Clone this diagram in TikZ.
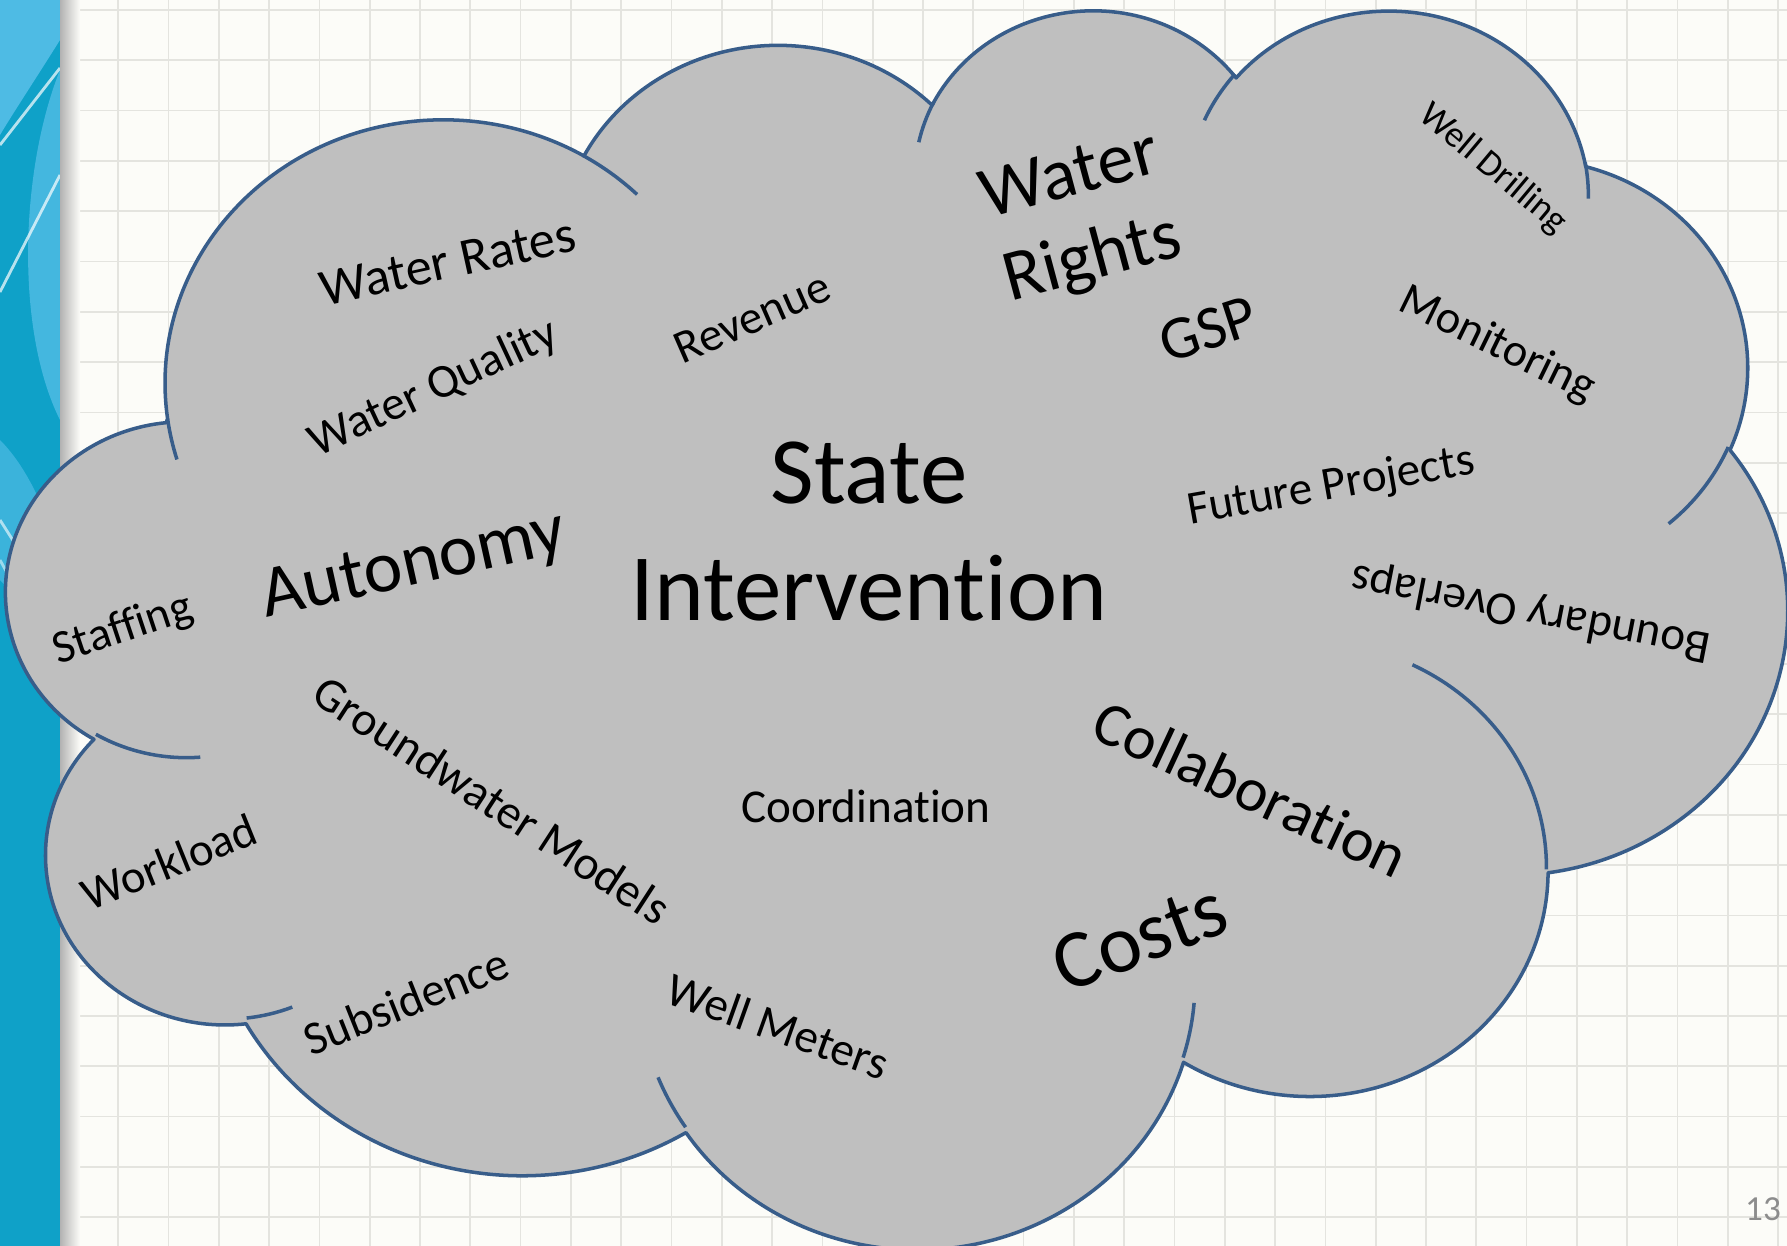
\documentclass[tikz,border=0pt]{standalone}
\usepackage{fontspec}
\setmainfont{Carlito}[Ligatures=NoCommon]
\definecolor{cloudfill}{HTML}{BFBFBF}
\definecolor{cloudline}{HTML}{385D8A}
\definecolor{bgc}{HTML}{FCFCF8}
\definecolor{gridc}{HTML}{E4E4DF}
\definecolor{stripe}{HTML}{0FA1C8}
\definecolor{stripelt}{HTML}{4EBBE4}
\definecolor{pagegray}{HTML}{8C8C8C}
\begin{document}
\begin{tikzpicture}[x=0.01cm,y=-0.01cm,
  declare function={tp(\tA,\tW,\tH)=atan2(\tW*sin(\tA),\tH*cos(\tA))+360*floor((\tA+180)/360);},
  carc/.style n args={4}{insert path={arc[start angle={-tp(#3,#1,#2)},end angle={-tp(#3+#4,#1,#2)},x radius={#1/432*0.1779cm},y radius={#2/432*0.1238cm}]}},
  cloudedge/.style={draw=cloudline,line width=1pt,line join=round},
  gridline/.style={draw=gridc,line width=0.5pt},
  word/.style={inner sep=0pt,text=black},
  fs/.style={font=\fontsize{#1}{#1}\selectfont}]
\useasboundingbox (0,0) rectangle (1787,1246);
% background and grid
\fill[bgc] (0,0) rectangle (1787,1246);
\foreach \k in {0,...,24} \draw[gridline] (60,{10+50.3*\k}) -- (1787,{10+50.3*\k});
\foreach \k in {1,...,35} \draw[gridline] ({17.6+50.3*\k},0) -- ({17.6+50.3*\k},1246);
% left stripe
\fill[stripe] (0,0) rectangle (60,1246);
\fill[stripelt] (0,0) -- (60,0) -- (60,40) .. controls (35,80) and (15,110) .. (0,135) -- cycle;
\fill[stripelt,opacity=0.85] (60,70) .. controls (20,170) and (15,330) .. (60,420) -- cycle;
\fill[stripelt,opacity=0.7] (0,440) .. controls (30,470) and (50,520) .. (60,560) -- (60,700) .. controls (40,640) and (20,600) .. (0,580) -- cycle;
\draw[white,opacity=0.7,line width=0.8pt] (0,145) -- (60,68);
\draw[white,opacity=0.7,line width=0.8pt] (0,292) -- (60,175);
\draw[white,opacity=0.6,line width=0.8pt] (0,520) -- (35,575);
\draw[white,opacity=0.5,line width=0.8pt] (0,560) -- (22,600);
\shade[left color=black!30,right color=bgc] (60,0) rectangle (80,1246);
% cloud body
\path[fill=cloudfill,cloudedge] (167.60,418.81)
  [carc={6753}{9190}{-190.48748}{123.78053}]
  [carc={5333}{7267}{-144.10238}{89.94523}]
  [carc={4365}{5945}{-145.80792}{99.72302}]
  [carc={4857}{6595}{-130.98607}{117.24173}]
  [carc={5333}{7273}{-78.70888}{109.02692}]
  [carc={6775}{9220}{-46.26725}{130.269}]
  [carc={5785}{7867}{0.62502}{114.03333}]
  [carc={6752}{9215}{22.4516}{115.17255}]
  [carc={7720}{10543}{66.24263}{75.71102}]
  [carc={4360}{5918}{-274.94208}{146.73557}]
  [carc={4345}{5945}{-246.8285}{152.51885}] -- cycle;
% inner hooks
\draw[cloudedge] (200.26,757.17) [carc={4345}{5945}{86.742}{26.4295}];
\draw[cloudedge] (292.30,1007.12) [carc={4360}{5918}{73.61047}{11.44747}];
\draw[cloudedge] (685.58,1127.22) [carc={6752}{9215}{137.62415}{14.0811}];
\draw[cloudedge] (1194.11,1002.88) [carc={6752}{9215}{6.45327}{15.99835}];
\draw[cloudedge] (1412.46,664.80) [carc={5785}{7867}{-70.29235}{70.91737}];
\draw[cloudedge] (1728.27,447.01) [carc={5333}{7273}{30.31803}{27.7515}];
\draw[cloudedge] (1585.21,162.49) [carc={4857}{6595}{-13.74433}{14.8589}];
\draw[cloudedge] (1204.45,120.25) [carc={4857}{6595}{-149.18145}{18.19537}];
\draw[cloudedge] (918.78,142.26) [carc={4365}{5945}{-163.49427}{17.68635}];
\draw[cloudedge] (583.53,155.79) [carc={6753}{9190}{-66.70695}{12.31935}];
\draw[cloudedge] (176.95,459.47) [carc={6753}{9190}{157.65435}{11.85817}];
% words
\node[word,fs=27,anchor=base] (state) at (869,504) {State};
\node[word,fs=27,anchor=base] (interv) at (869,621) {Intervention};
\node[word,fs=20.8,rotate=12.5] (auton) at (414,567) {Autonomy};
\node[word,fs=14.9,rotate=12.4] (rates) at (448,262) {Water Rates};
\node[word,fs=13.5,rotate=25] (quality) at (434,389) {Water Quality};
\node[word,fs=13.4,rotate=23.6] (revenue) at (752,318) {Revenue};
\node[word,font=\fontsize{20.7}{24.5}\selectfont,rotate=15,align=center] (rights) at (1082,220) {Water\\Rights};
\node[word,fs=17.5,rotate=18] (gsp) at (1208,329) {GSP};
\node[word,fs=10.5,rotate=-40] (drilling) at (1493,169) {Well Drilling};
\node[word,fs=13.2,rotate=-26] (monitor) at (1497,345) {Monitoring};
\node[word,fs=13.4,rotate=10] (future) at (1331,487) {Future Projects};
\node[word,fs=13.4,rotate=169] (boundary) at (1531,612) {Boundary Overlaps};
\node[word,fs=13.3,rotate=18.4] (staff) at (123,630) {Staffing};
\node[word,fs=13.3,rotate=22] (workload) at (169,862) {Workload};
\node[word,fs=13.6,rotate=-33] (gwm) at (492,800) {Groundwater Models};
\node[word,fs=13.4,anchor=base] (coord) at (866,823) {Coordination};
\node[word,fs=17.6,rotate=-25] (collab) at (1251,789) {Collaboration};
\node[word,fs=23.5,rotate=21] (costs) at (1140,937) {Costs};
\node[word,fs=13.4,rotate=-19.6] (meters) at (778,1026) {Well Meters};
\node[word,fs=13.4,rotate=21.7] (subs) at (406,1001) {Subsidence};
\node[inner sep=0pt,text=pagegray,fs=10] (page) at (1763,1209) {13};
\end{tikzpicture}
\end{document}
